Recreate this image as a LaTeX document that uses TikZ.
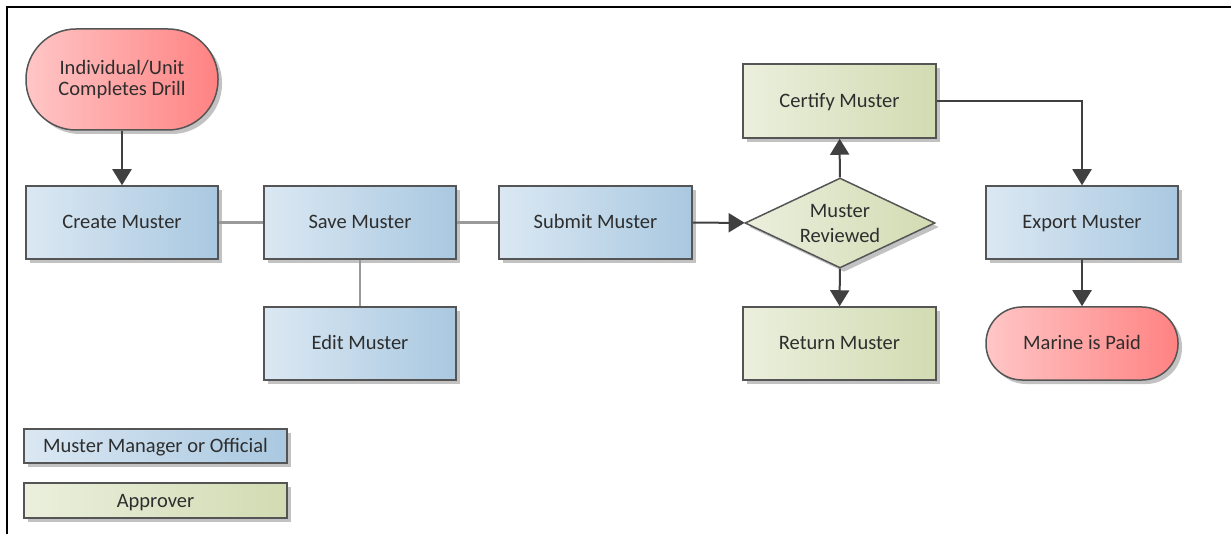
\documentclass[tikz,border=0pt]{standalone}
\usepackage{fontspec}
\setmainfont{Carlito}
\usetikzlibrary{shapes.geometric,shadows,arrows.meta}
\definecolor{bluelt}{HTML}{DBE8F3}
\definecolor{bluedk}{HTML}{A9C8E0}
\definecolor{grnlt}{HTML}{EBEFDD}
\definecolor{grndk}{HTML}{D2DBB2}
\definecolor{redlt}{HTML}{FFC6C6}
\definecolor{reddk}{HTML}{FF8282}
\definecolor{edge}{HTML}{555555}
\definecolor{txt}{HTML}{2E2E2E}
\definecolor{lgray}{HTML}{9A9A9A}
\definecolor{dgray}{HTML}{404040}
\tikzset{
  base/.style={draw=edge, line width=1.5pt, text=txt, font=\fontsize{20.5}{21}\selectfont,
    align=center, inner sep=0pt,
    drop shadow={shadow xshift=4pt, shadow yshift=-4pt, opacity=0.4, fill=black!60}},
  oneline/.style={text height=13.5pt, text depth=0.5pt},
  bluebox/.style={base, oneline, rectangle, left color=bluelt, right color=bluedk, minimum width=192pt, minimum height=73pt},
  grnbox/.style={base, oneline, rectangle, left color=grnlt, right color=grndk, minimum width=193pt, minimum height=73pt},
  term/.style={base, rectangle, left color=redlt, right color=reddk, minimum width=192pt},
  decide/.style={base, diamond, left color=grnlt, right color=grndk, minimum width=190pt, minimum height=90pt, shape aspect=2.1},
  legbox/.style={base, oneline, rectangle, minimum width=263pt, minimum height=34pt},
  plain/.style={draw=lgray, line width=2.5pt},
  flow/.style={draw=dgray, line width=2pt, -{Triangle[width=19pt,length=16pt]}},
}
\begin{document}
\begin{tikzpicture}[x=1pt,y=-1pt]
\useasboundingbox (0,0) rectangle (1231,534);
\draw[line width=2pt, black] (7,534) -- (7,7) -- (1231,7);

\node[term, minimum height=101pt, rounded corners=50pt] (start) at (122,79.5) {Individual/Unit\\Completes Drill};
\node[bluebox] (create) at (122,222.5) {Create Muster};
\node[bluebox] (save) at (360,222.5) {Save Muster};
\node[bluebox] (edit) at (360,343.5) {Edit Muster};
\node[bluebox, minimum width=193pt] (submit) at (595.5,222.5) {Submit Muster};
\node[decide, font=\fontsize{20.5}{25}\selectfont] (review) at (840,223) {Muster\\Reviewed};
\node[grnbox, minimum height=74pt] (certify) at (839.5,101) {Certify Muster};
\node[grnbox] (return) at (839.5,343.5) {Return Muster};
\node[bluebox] (export) at (1082,222.5) {Export Muster};
\node[term, oneline, minimum height=73pt, rounded corners=36pt] (paid) at (1082,343.5) {Marine is Paid};

\node[legbox, left color=bluelt, right color=bluedk] (leg1) at (155.5,446) {Muster Manager or Official};
\node[legbox, left color=grnlt, right color=grndk, minimum height=35pt] (leg2) at (155.5,500.5) {Approver};

\draw[flow] (start) -- (create);
\draw[plain] (create) -- (save);
\draw[plain] (save) -- (submit);
\draw[plain] (save) -- (edit);
\draw[flow] (submit) -- (review);
\draw[flow] (review) -- (certify);
\draw[flow] (review) -- (return);
\draw[flow] (certify.east) -| (export.north);
\draw[flow] (export) -- (paid);
\end{tikzpicture}
\end{document}
